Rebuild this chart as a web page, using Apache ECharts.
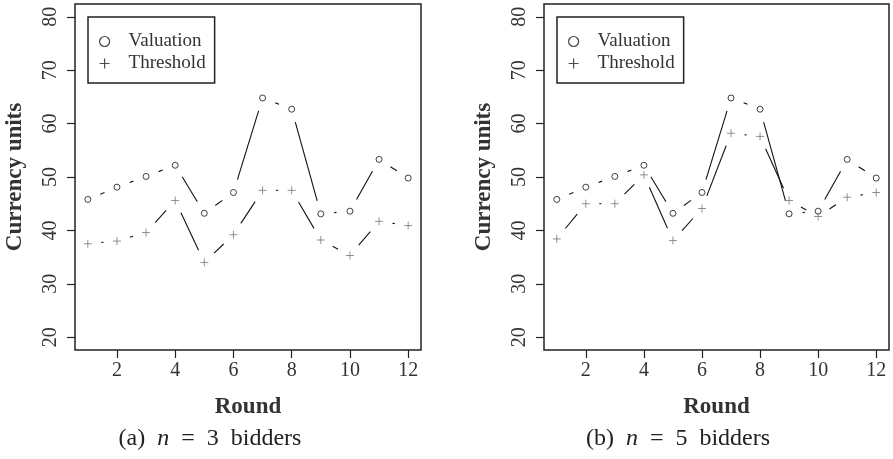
<!DOCTYPE html>
<html>
<head>
<meta charset="utf-8">
<script src="https://cdn.jsdelivr.net/npm/echarts@6/dist/echarts.min.js"></script>
<style>
  html, body { margin: 0; padding: 0; background: #fff; }
  #chart { width: 893px; height: 459px; }
</style>
</head>
<body>
<div id="chart"></div>
<script>
// rounds and values
const rounds = [1, 2, 3, 4, 5, 6, 7, 8, 9, 10, 11, 12];
const valuation = [45.8, 48.1, 50.1, 52.2, 43.2, 47.1, 64.8, 62.7, 43.1, 43.6, 53.3, 49.8];
const threshold3 = [37.5, 38.0, 39.6, 45.6, 34.0, 39.2, 47.5, 47.5, 38.2, 35.3, 41.7, 40.9];
const threshold5 = [38.4, 45.0, 45.0, 50.4, 38.1, 44.1, 58.2, 57.6, 45.6, 42.6, 46.2, 47.1];
const yTicks = [20, 30, 40, 50, 60, 70, 80];
const xTicks = [2, 4, 6, 8, 10, 12];
const captions = ['(a)', '(b)'];
const bidders = [3, 5];

const serif = '"Liberation Serif", "DejaVu Serif", serif';
const textCol = '#333';
const GAP = 13.5; // R type="b" style gap round each point

const chart = echarts.init(document.getElementById('chart'));

// line segments between points, with a gap at both ends
function gappedLine(xs, ys) {
    return function (params, api) {
        const i = params.dataIndex;
        if (i === 0) return null;
        const p0 = api.coord([xs[i - 1], ys[i - 1]]);
        const p1 = api.coord([xs[i], ys[i]]);
        const dx = p1[0] - p0[0], dy = p1[1] - p0[1];
        const len = Math.sqrt(dx * dx + dy * dy);
        if (len <= 2 * GAP) return null;
        const ux = dx / len, uy = dy / len;
        return {
            type: 'line',
            shape: {
                x1: p0[0] + ux * GAP, y1: p0[1] + uy * GAP,
                x2: p1[0] - ux * GAP, y2: p1[1] - uy * GAP
            },
            style: { stroke: '#111', lineWidth: 1.1 }
        };
    };
}

const plusPath = 'path://M0,5L10,5M5,0L5,10';

const grids = [
    { left: 75, top: 4, width: 346, height: 346 },
    { left: 544, top: 4, width: 345, height: 346 }
];

const xAxes = [], yAxes = [], series = [], legends = [], graphics = [];
const thresholds = [threshold3, threshold5];
const captionX = [210, 678];

grids.forEach(function (g, k) {
    g.show = true;
    g.borderColor = '#222';
    g.borderWidth = 1.5;
    g.containLabel = false;

    xAxes.push({
        type: 'value', gridIndex: k, min: 0.56, max: 12.44,
        name: 'Round', nameLocation: 'middle', nameGap: 46,
        nameTextStyle: { fontFamily: serif, fontWeight: 'bold', fontSize: 23, color: textCol },
        axisLine: { show: false },
        splitLine: { show: false },
        axisTick: { show: true, length: 8, customValues: xTicks, lineStyle: { color: '#222', width: 1.2 } },
        axisLabel: { customValues: xTicks, margin: 11, fontFamily: serif, fontSize: 20, color: textCol }
    });
    yAxes.push({
        type: 'value', gridIndex: k, min: 17.6, max: 82.4,
        name: 'Currency units', nameLocation: 'middle', nameGap: 48,
        nameTextStyle: { fontFamily: serif, fontWeight: 'bold', fontSize: 23, color: textCol },
        axisLine: { show: false },
        splitLine: { show: false },
        axisTick: { show: true, length: 8, customValues: yTicks, lineStyle: { color: '#222', width: 1.2 } },
        axisLabel: { customValues: yTicks, rotate: 90, margin: 14, fontFamily: serif, fontSize: 20, color: textCol }
    });

    const thr = thresholds[k];
    series.push({
        name: 'Valuation line', type: 'custom', xAxisIndex: k, yAxisIndex: k, silent: true,
        renderItem: gappedLine(rounds, valuation),
        data: rounds.map(function (r, i) { return [r, valuation[i]]; })
    });
    series.push({
        name: 'Threshold line', type: 'custom', xAxisIndex: k, yAxisIndex: k, silent: true,
        renderItem: gappedLine(rounds, thr),
        data: rounds.map(function (r, i) { return [r, thr[i]]; })
    });
    series.push({
        name: 'Valuation', type: 'scatter', xAxisIndex: k, yAxisIndex: k, silent: true,
        symbol: 'circle', symbolSize: 6,
        itemStyle: { color: 'transparent', borderColor: '#111', borderWidth: 1 },
        data: rounds.map(function (r, i) { return [r, valuation[i]]; })
    });
    series.push({
        name: 'Threshold', type: 'scatter', xAxisIndex: k, yAxisIndex: k, silent: true,
        symbol: plusPath, symbolSize: 8,
        itemStyle: { color: 'transparent', borderColor: '#777', borderWidth: 1 },
        data: rounds.map(function (r, i) { return [r, thr[i]]; })
    });

    legends.push({
        left: g.left + 13, top: 17, orient: 'vertical',
        selectedMode: false,
        borderColor: '#222', borderWidth: 1.5,
        padding: [15, 9, 10, 11],
        itemWidth: 10, itemHeight: 10, itemGap: 3,
        textStyle: { fontFamily: serif, fontSize: 19, color: textCol, padding: [0, 0, 0, 14] },
        data: [
            { name: 'Valuation', icon: 'circle',
              itemStyle: { color: 'transparent', borderColor: '#111', borderWidth: 1.2 } },
            { name: 'Threshold', icon: plusPath,
              itemStyle: { color: 'transparent', borderColor: '#222', borderWidth: 1.2 } }
        ]
    });

    graphics.push({
        type: 'text', x: captionX[k], y: 439,
        style: {
            text: captions[k] + '  {i|n}  =  ' + bidders[k] + '  bidders',
            textAlign: 'center', textVerticalAlign: 'middle',
            font: '24px ' + serif, fill: '#222',
            rich: { i: { fontStyle: 'italic', fontFamily: serif, fontSize: 24, color: '#222' } }
        }
    });
});

chart.setOption({
    animation: false,
    backgroundColor: '#fff',
    grid: grids,
    xAxis: xAxes,
    yAxis: yAxes,
    legend: legends,
    graphic: graphics,
    series: series
});
</script>
</body>
</html>
